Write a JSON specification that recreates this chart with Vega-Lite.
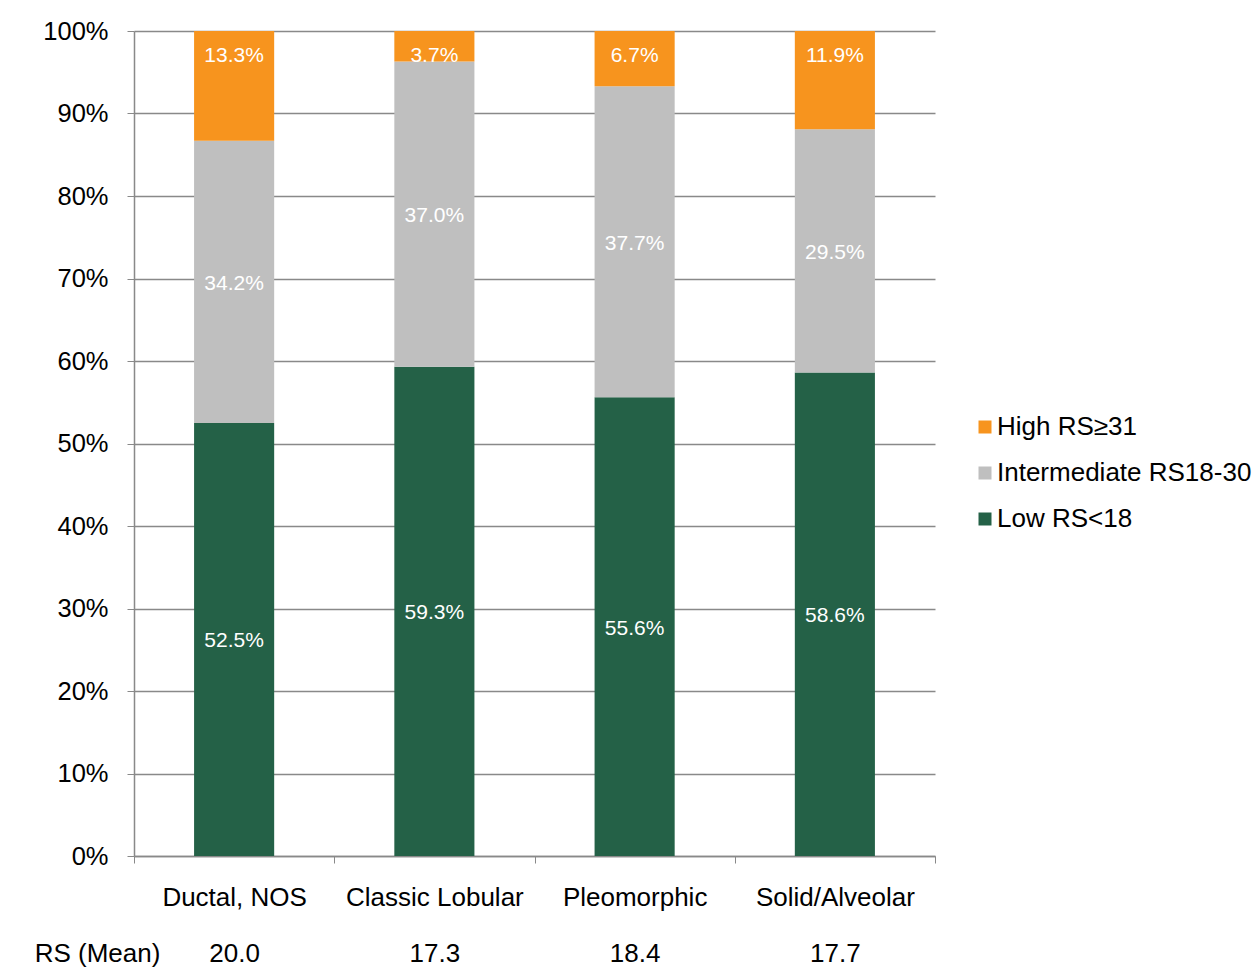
{
  "$schema": "https://vega.github.io/schema/vega-lite/v6.json",
  "width": 801,
  "height": 825,
  "autosize": {"type": "none"},
  "padding": {"left": 134, "top": 31, "right": 322, "bottom": 116},
  "background": "white",
  "config": {"view": {"stroke": null}, "font": "Liberation Sans"},
  "data": {
    "values": [
      {"cat": "Ductal, NOS|20.0", "risk": "Low RS<18", "order": 1, "pct": 0.525},
      {"cat": "Ductal, NOS|20.0", "risk": "Intermediate RS18-30", "order": 2, "pct": 0.342},
      {"cat": "Ductal, NOS|20.0", "risk": "High RS≥31", "order": 3, "pct": 0.133},
      {"cat": "Classic Lobular|17.3", "risk": "Low RS<18", "order": 1, "pct": 0.593},
      {"cat": "Classic Lobular|17.3", "risk": "Intermediate RS18-30", "order": 2, "pct": 0.370},
      {"cat": "Classic Lobular|17.3", "risk": "High RS≥31", "order": 3, "pct": 0.037},
      {"cat": "Pleomorphic|18.4", "risk": "Low RS<18", "order": 1, "pct": 0.556},
      {"cat": "Pleomorphic|18.4", "risk": "Intermediate RS18-30", "order": 2, "pct": 0.377},
      {"cat": "Pleomorphic|18.4", "risk": "High RS≥31", "order": 3, "pct": 0.067},
      {"cat": "Solid/Alveolar|17.7", "risk": "Low RS<18", "order": 1, "pct": 0.586},
      {"cat": "Solid/Alveolar|17.7", "risk": "Intermediate RS18-30", "order": 2, "pct": 0.295},
      {"cat": "Solid/Alveolar|17.7", "risk": "High RS≥31", "order": 3, "pct": 0.119}
    ]
  },
  "transform": [
    {"stack": "pct", "groupby": ["cat"], "sort": [{"field": "order", "order": "ascending"}], "as": ["lo", "hi"]},
    {"calculate": "(datum.lo + datum.hi) / 2", "as": "mid"}
  ],
  "encoding": {
    "x": {
      "field": "cat",
      "type": "nominal",
      "sort": null,
      "scale": {"paddingInner": 0, "paddingOuter": 0},
      "axis": {
        "title": "RS (Mean)",
        "titleX": -37,
        "titleY": 97,
        "titleAlign": "center",
        "titleBaseline": "middle",
        "titleFontSize": 26,
        "titleFontWeight": "normal",
        "titleColor": "black",
        "labelExpr": "split(datum.label, '|')",
        "labelAngle": 0,
        "labelFontSize": 26,
        "labelColor": "black",
        "labelLineHeight": 56,
        "labelPadding": 21,
        "tickBand": "extent",
        "tickSize": 7,
        "tickColor": "#898989",
        "domainColor": "#898989",
        "domainWidth": 1.5,
        "labelBound": false,
        "labelOverlap": false
      }
    }
  },
  "layer": [
    {
      "mark": {"type": "bar", "width": {"band": 0.4}},
      "encoding": {
        "y": {
          "field": "lo",
          "type": "quantitative",
          "scale": {"domain": [0, 1], "nice": false},
          "axis": {
            "title": null,
            "values": [0, 0.1, 0.2, 0.3, 0.4, 0.5, 0.6, 0.7, 0.8, 0.9, 1],
            "format": ".0%",
            "labelFontSize": 25.5,
            "labelColor": "black",
            "labelPadding": 19,
            "tickSize": 7,
            "tickColor": "#898989",
            "domainColor": "#898989",
            "domainWidth": 1.5,
            "grid": true,
            "gridColor": "#898989",
            "gridWidth": 1.5
          }
        },
        "y2": {"field": "hi"},
        "color": {
          "field": "risk",
          "type": "nominal",
          "scale": {
            "domain": ["High RS≥31", "Intermediate RS18-30", "Low RS<18"],
            "range": ["#F7941E", "#BFBFBF", "#246147"]
          },
          "legend": {
            "title": null,
            "orient": "none",
            "legendX": 838,
            "legendY": 383,
            "symbolType": "square",
            "symbolSize": 169,
            "symbolStrokeWidth": 0,
            "labelFontSize": 26,
            "labelColor": "black",
            "labelLimit": 400,
            "labelOffset": -1,
            "rowPadding": 20,
            "padding": 0
          }
        }
      }
    },
    {
      "transform": [{"filter": "datum.order < 3"}],
      "mark": {"type": "text", "color": "white", "fontSize": 21, "dy": 2},
      "encoding": {
        "y": {"field": "mid", "type": "quantitative"},
        "text": {"field": "pct", "type": "quantitative", "format": ".1%"}
      }
    },
    {
      "transform": [{"filter": "datum.order == 3"}],
      "mark": {"type": "text", "color": "white", "fontSize": 21, "dy": 25},
      "encoding": {
        "y": {"field": "hi", "type": "quantitative"},
        "text": {"field": "pct", "type": "quantitative", "format": ".1%"}
      }
    }
  ]
}
